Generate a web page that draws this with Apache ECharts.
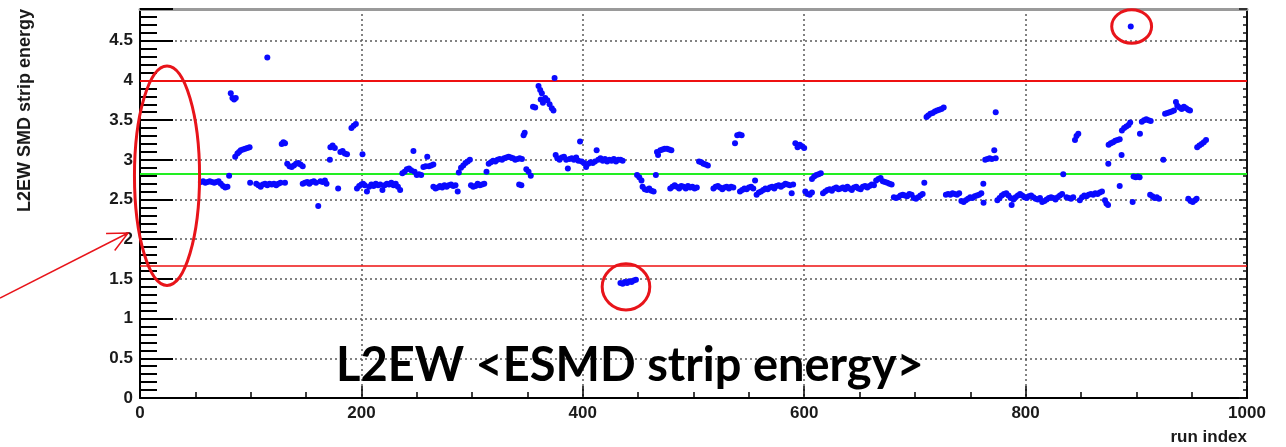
<!DOCTYPE html>
<html>
<head>
<meta charset="utf-8">
<script src="https://cdn.jsdelivr.net/npm/echarts@6/dist/echarts.min.js"></script>
<style>
html,body{margin:0;padding:0;background:#fff;}
#chart{width:1286px;height:447px;}
</style>
</head>
<body>
<div id="chart"></div>
<script>
// ---- data ----
const xTickLabels = ['0', '200', '400', '600', '800', '1000'];
const yTickLabels = ['0', '0.5', '1', '1.5', '2', '2.5', '3', '3.5', '4', '4.5'];
const upperLimit = 4.0;
const lowerLimit = 1.666;
const meanValue = 2.825;

// [run index, L2EW SMD strip energy]
const runs = [
[55,2.72],[57,2.73],[59,2.71],[61,2.72],[63,2.73],[65,2.72],[67,2.71],[69,2.72],[71,2.73],[73,2.70],[75,2.67],[77,2.65],[79,2.66],[80.5,2.80],
[82,3.84],[83.5,3.78],[85,3.76],[86.5,3.78],
[86,3.04],[88,3.08],[89.5,3.10],[91,3.12],[93,3.13],[95,3.14],[97,3.15],[99,3.16],
[99.5,2.71],
[105,2.70],[107,2.68],[109,2.66],[111,2.69],[113,2.70],[115,2.68],[117,2.70],[119,2.69],[121,2.70],[123,2.68],[125,2.70],[127,2.71],[131,2.71],
[115,4.29],
[128,3.20],[129.5,3.22],[131,3.21],
[133,2.95],[135,2.92],[137,2.91],[139,2.93],[141,2.95],[143,2.96],[145,2.94],[147,2.92],
[147,2.70],[149,2.71],[151,2.72],[153,2.70],[155,2.72],[157,2.73],[159,2.71],[161,2.42],[163,2.73],[165,2.72],[167,2.74],[168.5,2.70],
[171.5,3.00],
[172,3.16],[174,3.18],[176,3.15],
[179,2.64],
[181,3.10],[183,3.11],[185,3.08],[187,3.07],
[191,3.40],[193,3.43],[195,3.45],
[196,2.64],[198,2.67],[200,2.69],
[201,3.07],
[201.5,2.70],[203,2.68],[205,2.60],[207,2.66],[209,2.69],[211,2.67],[213,2.70],[215,2.68],[217,2.69],[219,2.62],[221,2.68],[223,2.70],[225,2.69],[227,2.71],[229,2.68],[231,2.70],[233,2.66],[235,2.62],
[237,2.83],[239,2.85],[241,2.88],[243,2.89],[245,2.87],[247,3.11],[248,2.85],[250,2.81],[252,2.82],[254,2.81],
[256,2.91],[258,2.92],[259.5,3.04],[261,2.92],[263,2.93],[265,2.94],
[265,2.66],[267,2.64],[269,2.65],[271,2.67],[273,2.65],[275,2.68],[277,2.66],[279,2.68],[281,2.69],[283,2.67],[285,2.68],[287,2.60],
[288,2.84],[290,2.90],[292,2.93],[294,2.96],[296,2.98],[298,3.00],
[299,2.68],[301,2.66],[303,2.67],[305,2.70],[307,2.68],[309,2.69],[311,2.70],
[313,2.85],
[315,2.95],[317,2.97],[319,2.99],[321,2.98],[323,3.00],[325,3.01],[327,3.00],[329,3.02],[331,3.03],[333,3.04],[335,3.03],[337,3.02],[339,3.00],[341,3.01],[343,3.02],[345,3.01],
[342.5,2.69],[344.5,2.68],
[346.5,3.31],[347.5,3.34],
[349,2.88],[351,2.85],[353,2.80],
[355,3.67],[357,3.66],
[360,3.93],[361.5,3.88],[363,3.84],[362,3.76],[364,3.72],[366,3.78],[368,3.75],[370,3.70],[372,3.65],[373.5,3.62],
[374.5,4.03],
[375.5,3.06],[377,3.02],[379,3.00],[381,3.03],[383,3.04],[385,3.00],[386.5,2.89],[388,3.01],[390,3.02],[392,3.00],[394,3.03],[396,2.99],[397.5,3.23],
[399,2.98],[401,2.96],[403,2.91],[405,2.95],[407,2.97],[409,2.96],[411,2.98],[412.5,3.12],[414,3.00],[416,3.02],[418,2.99],[420,3.01],[422,2.98],[424,3.00],[426,2.99],[428,3.01],[430,2.98],[432,3.00],[434,3.00],[436,2.99],
[434,1.45],[436,1.44],[438,1.46],[440,1.45],[442,1.47],[444,1.46],[446,1.48],[448,1.49],
[449,2.81],[451,2.78],[453,2.74],
[454,2.66],[456,2.63],[458,2.62],[460,2.64],[462,2.61],[464,2.60],
[466,2.81],
[467,3.10],[468,3.06],[470,3.12],[472,3.13],[474,3.14],[476,3.14],[478,3.13],[480,3.12],
[479,2.64],[481,2.66],[483,2.68],[485,2.66],[487,2.64],[489,2.67],[491,2.66],[493,2.64],[495,2.67],[497,2.65],[499,2.66],[501,2.64],[503,2.65],
[505,2.98],[507,2.97],[509,2.95],[511,2.94],[513,2.93],
[518,2.64],[520,2.66],[522,2.67],[524,2.65],[526,2.63],[528,2.65],[530,2.66],[532,2.64],[534,2.66],[536,2.65],
[537.5,3.21],[539.5,3.31],[541.5,3.32],[543.5,3.31],
[542,2.60],[544,2.62],[546,2.64],[548,2.63],[550,2.65],[552,2.66],[554,2.64],
[555.6,2.74],
[557,2.56],[559,2.59],[561,2.60],[563,2.62],[565,2.64],[567,2.63],[569,2.65],[571,2.66],[573,2.64],[575,2.67],[577,2.68],[579,2.66],[581,2.68],[583,2.70],[585,2.69],[587,2.68],[588.7,2.58],[590,2.69],
[592,3.21],[594,3.16],[596,3.19],[598,3.17],[600,3.15],
[601,2.60],[603,2.57],[605,2.56],[607,2.59],
[607,2.76],[609,2.79],[611,2.81],[613,2.82],[615,2.83],
[617,2.58],[619,2.60],[621,2.62],[623,2.63],[625,2.61],[627,2.64],[629,2.65],[631,2.63],
[633,2.64],[635,2.65],[637,2.63],[639,2.66],[641,2.64],[643,2.62],[645,2.65],[647,2.66],[649,2.64],[651,2.63],[653,2.66],[655,2.67],[657,2.65],[659,2.67],[661,2.69],[663,2.68],[665,2.74],[667,2.76],[669,2.77],[671,2.73],[673,2.72],[675,2.71],[677,2.70],[679,2.69],
[681,2.53],[683,2.52],[685,2.53],[687,2.55],[689,2.56],[691,2.55],[693,2.54],[695,2.57],[697,2.56],[699,2.52],[701,2.51],[703,2.53],[705,2.55],[707,2.57],
[708.5,2.71],
[710.5,3.54],[712,3.56],[714,3.58],[716,3.59],[718,3.61],[720,3.62],[722,3.63],[724,3.64],[726,3.66],
[728,2.56],[730,2.57],[732,2.56],[734,2.58],[736,2.57],[738,2.56],[740,2.58],
[742,2.48],[744,2.47],[746,2.49],[748,2.51],[750,2.53],[752,2.52],[754,2.54],[756,2.55],[758,2.56],[760,2.58],
[761.8,2.70],[762,2.46],
[763.5,3.00],[765.5,3.01],[767.5,3.02],[769.5,3.01],[771.7,3.12],[773,3.02],
[773,3.60],
[774.5,2.49],[776.5,2.52],[778.5,2.55],[780.5,2.57],[782.5,2.58],[784.5,2.55],[786.5,2.52],[787.4,2.43],[789,2.50],[791,2.53],[793,2.55],[795,2.57],[797,2.55],[799,2.53],[801,2.52],[803,2.54],[805,2.55],[807,2.53],[809,2.51],[811,2.50],[813,2.52],
[815,2.47],[817,2.48],[819,2.50],[821,2.52],[823,2.53],[825,2.52],
[827,2.50],[829,2.53],[831,2.55],[833,2.57],
[834,2.82],
[837,2.53],[839,2.52],[841,2.51],[843,2.53],
[844.6,3.25],[846,3.30],[847.6,3.33],
[849,2.49],[851,2.53],[853,2.55],[855,2.54],[857,2.56],[859,2.57],[861,2.56],[863,2.58],[865,2.57],[867,2.59],[869,2.60],
[871.7,2.49],[873,2.45],[874.5,2.43],
[874.7,2.95],
[875,3.19],[877,3.21],[879,3.22],[881,3.24],[883,3.25],[885,3.26],
[885,2.67],
[886.7,3.06],
[887,3.37],[889,3.40],[891,3.42],[893,3.44],[894.5,3.47],
[895,4.68],
[896.7,2.47],
[897.5,2.79],[899.5,2.78],[901.5,2.79],[903,2.78],
[903.3,3.33],
[905,3.48],[907,3.50],[909,3.51],[911,3.50],[913,3.49],
[912.5,2.56],[914.5,2.54],[916.5,2.52],[918.5,2.53],[920.5,2.51],
[924.4,3.00],
[926,3.58],[928,3.59],[930,3.60],[932,3.61],[934,3.62],[935.8,3.73],[937,3.68],[939,3.66],[941,3.64],[943,3.67],[945,3.65],[947,3.63],[948.5,3.62],
[947,2.51],[949,2.48],[951,2.47],[953,2.49],[954.5,2.51],
[955,3.16],[957,3.18],[959,3.20],[961,3.22],[963,3.25]
];

// annotation anchors in data units (slide overlay)
const ellipseLeft = {x: 24.4, y: 2.80, rx: 29.4, ry: 1.382};
const circleLow = {x: 439, y: 1.40, rx: 21.5, ry: 0.29};
const circleHigh = {x: 895.8, y: 4.68, rx: 18, ry: 0.21};
const arrowFrom = [-126.5, 1.259];
const arrowTo = [-10.8, 2.078];

const FONT = 'Liberation Sans, Arial, sans-serif';
const chart = echarts.init(document.getElementById('chart'), null, {renderer: 'canvas'});

const gridLine = {show: true, lineStyle: {color: '#5a5a5a', type: [2, 3], width: 1.5}};

chart.setOption({
  animation: false,
  backgroundColor: '#ffffff',
  grid: {left: 140, right: 39, top: 9, bottom: 49, containLabel: false},
  xAxis: [{
    type: 'value', min: 0, max: 1000, interval: 200, position: 'bottom',
    axisLine: {show: true, onZero: false, lineStyle: {color: '#000', width: 2}},
    axisTick: {show: true, inside: true, length: 12, lineStyle: {color: '#000', width: 1.5}},
    minorTick: {show: true, splitNumber: 4, length: 6, lineStyle: {color: '#000', width: 1.5}},
    axisLabel: {fontFamily: FONT, fontWeight: 'bold', fontSize: 17, color: '#1a1a1a', margin: 7,
      formatter: (v) => xTickLabels[Math.round(v / 200)] || ''},
    splitLine: gridLine
  }, {
    type: 'value', min: 0, max: 1000, interval: 200, position: 'top',
    axisLine: {show: true, onZero: false, lineStyle: {color: '#9a9a9a', width: 3}},
    axisTick: {show: false}, axisLabel: {show: false}, splitLine: {show: false}
  }],
  yAxis: [{
    type: 'value', min: 0, max: 4.9, interval: 0.5, position: 'left',
    axisLine: {show: true, onZero: false, lineStyle: {color: '#000', width: 2}},
    axisTick: {show: true, inside: true, length: 33, lineStyle: {color: '#000', width: 2}},
    minorTick: {show: true, splitNumber: 5, length: 17, lineStyle: {color: '#000', width: 2}},
    axisLabel: {fontFamily: FONT, fontWeight: 'bold', fontSize: 17, color: '#1a1a1a', margin: 7, showMaxLabel: false,
      formatter: (v) => { const i = Math.round(v / 0.5); return Math.abs(i * 0.5 - v) < 1e-6 ? (yTickLabels[i] || '') : ''; }},
    splitLine: gridLine
  }, {
    type: 'value', min: 0, max: 4.9, interval: 0.5, position: 'right',
    axisLine: {show: true, onZero: false, lineStyle: {color: '#111', width: 2}},
    axisTick: {show: true, inside: true, length: 8, lineStyle: {color: '#111', width: 1.5}},
    minorTick: {show: true, splitNumber: 5, length: 4, lineStyle: {color: '#111', width: 1.5}},
    axisLabel: {show: false}, splitLine: {show: false}
  }],
  series: [{
    type: 'scatter',
    xAxisIndex: 0, yAxisIndex: 0,
    data: runs,
    symbol: 'circle',
    symbolSize: 6,
    itemStyle: {color: '#0a0aff', opacity: 1},
    silent: true,
    z: 5,
    markLine: {
      silent: true, symbol: ['none', 'none'], label: {show: false},
      data: [
        {yAxis: upperLimit, lineStyle: {color: '#ee1111', width: 2, type: 'solid'}},
        {yAxis: lowerLimit, lineStyle: {color: '#ee1111', width: 1.5, type: 'solid'}},
        {yAxis: meanValue, lineStyle: {color: '#22ee22', width: 2, type: 'solid'}}
      ]
    }
  }]
});

function px(p) { return chart.convertToPixel({gridIndex: 0}, p); }
function ell(a) {
  const c = px([a.x, a.y]);
  const e = px([a.x + a.rx, a.y - a.ry]);
  return {cx: c[0], cy: c[1], rx: Math.abs(e[0] - c[0]), ry: Math.abs(e[1] - c[1])};
}
const a0 = px(arrowFrom), a1 = px(arrowTo);
const dx = a1[0] - a0[0], dy = a1[1] - a0[1];
const L = Math.hypot(dx, dy), ux = dx / L, uy = dy / L;
const head = 22, ang = 0.45;
function rot(x, y, t) { return [x * Math.cos(t) - y * Math.sin(t), x * Math.sin(t) + y * Math.cos(t)]; }
const h1 = rot(-ux, -uy, ang), h2 = rot(-ux, -uy, -ang);
const red = '#e8141a';

chart.setOption({
  graphic: [
    {type: 'ellipse', shape: ell(ellipseLeft), style: {fill: 'none', stroke: red, lineWidth: 3}, z: 100},
    {type: 'ellipse', shape: ell(circleLow), style: {fill: 'none', stroke: red, lineWidth: 3}, z: 100},
    {type: 'ellipse', shape: ell(circleHigh), style: {fill: 'none', stroke: red, lineWidth: 3}, z: 100},
    {type: 'line', shape: {x1: a0[0], y1: a0[1], x2: a1[0], y2: a1[1]}, style: {stroke: red, lineWidth: 1.5}, z: 100},
    {type: 'polyline', shape: {points: [[a1[0] + h1[0] * head, a1[1] + h1[1] * head], a1, [a1[0] + h2[0] * head, a1[1] + h2[1] * head]]},
      style: {stroke: red, lineWidth: 1.5, fill: 'none'}, z: 100},
    {type: 'text', x: 25, y: 9, rotation: Math.PI / 2,
      style: {text: 'L2EW SMD strip energy', font: 'bold 18px ' + FONT, fill: '#1a1a1a', align: 'right', verticalAlign: 'middle'}, z: 100},
    {type: 'text', x: 1247, y: 437,
      style: {text: 'run index', font: 'bold 17px ' + FONT, fill: '#1a1a1a', align: 'right', verticalAlign: 'middle'}, z: 100},
    {type: 'text', x: 336, y: 342,
      style: {text: 'L2EW <ESMD strip energy>', font: 'bold 47px Lato, "Open Sans", sans-serif', fill: '#000', align: 'left', verticalAlign: 'top'}, z: 100}
  ]
});
</script>
</body>
</html>
